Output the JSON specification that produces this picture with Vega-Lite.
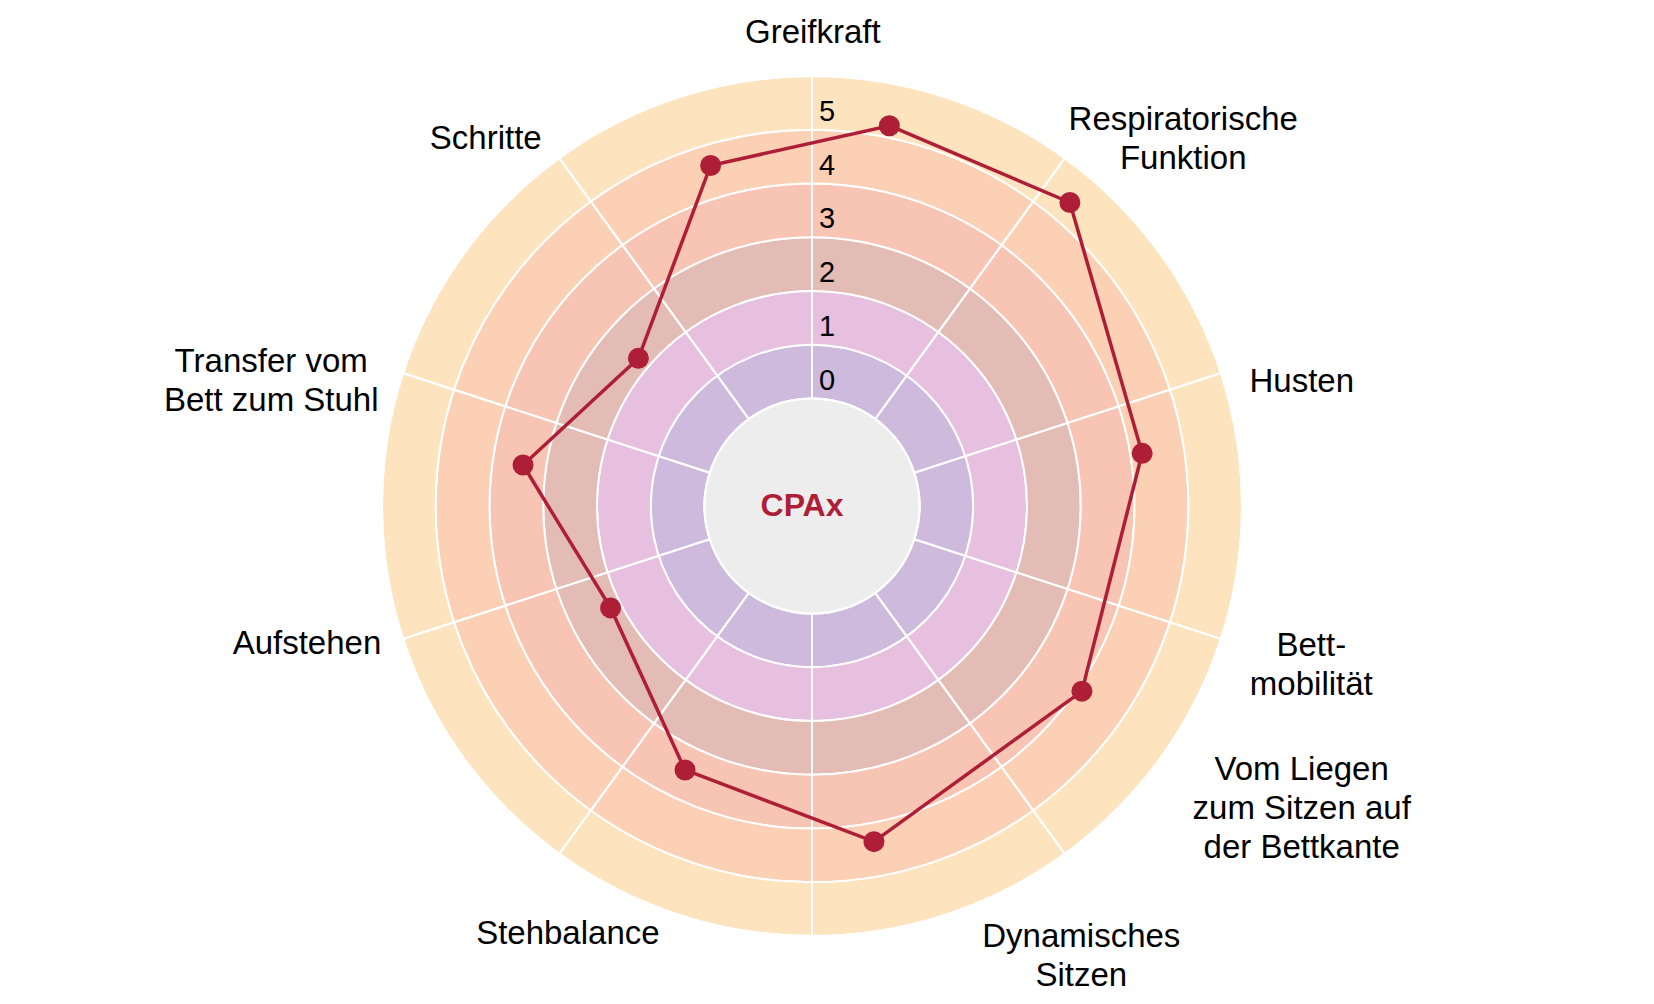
{
  "$schema": "https://vega.github.io/schema/vega-lite/v6.json",
  "width": 1624,
  "height": 996,
  "autosize": {"type": "none"},
  "padding": {"left": 0, "top": 8, "right": 30, "bottom": 0},
  "background": "white",
  "config": {"view": {"stroke": null}, "font": "Liberation Sans"},
  "datasets": {
    "bands": [
      {"score": 0, "from": 0, "to": 1},
      {"score": 1, "from": 1, "to": 2},
      {"score": 2, "from": 2, "to": 3},
      {"score": 3, "from": 3, "to": 4},
      {"score": 4, "from": 4, "to": 5},
      {"score": 5, "from": 5, "to": 6}
    ],
    "items": [
      {"item": "Greifkraft", "label": "Greifkraft", "angle": 11.5, "score": 5.22, "labelAngle": 0.1, "labelDist": 6.8},
      {"item": "Respiratorische Funktion", "label": "Respiratorische\nFunktion", "angle": 40.35, "score": 5.41, "labelAngle": 43.9, "labelDist": 7.96},
      {"item": "Husten", "label": "Husten", "angle": 80.93, "score": 4.22, "labelAngle": 75.76, "labelDist": 7.4},
      {"item": "Bettmobilität", "label": "Bett-\nmobilität", "angle": 124.45, "score": 4.09, "labelAngle": 105.71, "labelDist": 7.65},
      {"item": "Vom Liegen zum Sitzen auf der Bettkante", "label": "Vom Liegen\nzum Sitzen auf\nder Bettkante", "angle": 169.54, "score": 4.35, "labelAngle": 118.33, "labelDist": 8.35},
      {"item": "Dynamisches Sitzen", "label": "Dynamisches\nSitzen", "angle": 205.69, "score": 3.45, "labelAngle": 148.02, "labelDist": 7.46},
      {"item": "Stehbalance", "label": "Stehbalance", "angle": 243.16, "score": 2.2, "labelAngle": 209.69, "labelDist": 7.17},
      {"item": "Aufstehen", "label": "Aufstehen", "angle": 278.07, "score": 3.43, "labelAngle": 254.72, "labelDist": 7.74},
      {"item": "Transfer vom Bett zum Stuhl", "label": "Transfer vom\nBett zum Stuhl", "angle": 310.38, "score": 2.24, "labelAngle": 284.87, "labelDist": 8.41},
      {"item": "Schritte", "label": "Schritte", "angle": 343.42, "score": 4.61, "labelAngle": 318.33, "labelDist": 7.13}
    ],
    "ticks": [
      {"tick": 0}, {"tick": 1}, {"tick": 2}, {"tick": 3}, {"tick": 4}, {"tick": 5}
    ],
    "title": [{"name": "CPAx"}]
  },
  "resolve": {"scale": {"theta": "independent"}},
  "layer": [
    {
      "data": {"name": "bands"},
      "mark": {"type": "arc", "stroke": "white", "strokeWidth": 2},
      "encoding": {
        "theta": {"datum": 0, "type": "quantitative", "scale": {"domain": [0, 360], "range": [0, 6.283185307179586]}},
        "theta2": {"datum": 360},
        "radius": {"field": "to", "type": "quantitative", "scale": {"type": "linear", "domain": [-2, 6], "range": [0, 430], "zero": false, "nice": false}},
        "radius2": {"field": "from"},
        "color": {
          "field": "score", "type": "nominal", "legend": null,
          "scale": {"domain": [0, 1, 2, 3, 4, 5], "range": ["#CEBADC", "#E6C0DE", "#E2BCB5", "#F8C4B4", "#FBD0B5", "#FDE4BE"]}
        }
      }
    },
    {
      "data": {"name": "title"},
      "mark": {"type": "arc", "fill": "#EDEDED", "stroke": "white", "strokeWidth": 2},
      "encoding": {
        "theta": {"datum": 0, "type": "quantitative", "scale": {"domain": [0, 360], "range": [0, 6.283185307179586]}},
        "theta2": {"datum": 360},
        "radius": {"datum": 0, "type": "quantitative", "scale": {"type": "linear", "domain": [-2, 6], "range": [0, 430], "zero": false, "nice": false}},
        "radius2": {"datum": -2}
      }
    },
    {
      "data": {"name": "items"},
      "mark": {"type": "arc", "fill": "transparent", "stroke": "white", "strokeWidth": 2},
      "encoding": {
        "theta": {"aggregate": "count", "type": "quantitative", "stack": true},
        "detail": {"field": "item"},
        "radius": {"datum": 6, "type": "quantitative", "scale": {"type": "linear", "domain": [-2, 6], "range": [0, 430], "zero": false, "nice": false}},
        "radius2": {"datum": 0}
      }
    },
    {
      "data": {"name": "items"},
      "transform": [
        {"calculate": "(datum.score + 2) * sin(datum.angle * PI / 180)", "as": "px"},
        {"calculate": "(datum.score + 2) * cos(datum.angle * PI / 180)", "as": "py"}
      ],
      "encoding": {
        "x": {"field": "px", "type": "quantitative", "axis": null, "scale": {"domain": [-15.107, 15.107], "nice": false, "zero": false}},
        "y": {"field": "py", "type": "quantitative", "axis": null, "scale": {"domain": [-9.2651, 9.2651], "nice": false, "zero": false}}
      },
      "layer": [
        {
          "mark": {"type": "line", "interpolate": "linear-closed", "color": "#AE1F37", "strokeWidth": 3.5},
          "encoding": {"order": {"field": "angle", "type": "quantitative"}}
        },
        {
          "mark": {"type": "circle", "size": 440, "color": "#AE1F37", "opacity": 1}
        }
      ]
    },
    {
      "data": {"name": "ticks"},
      "mark": {"type": "text", "radiusOffset": 18, "dx": 15, "fontSize": 29, "align": "center", "baseline": "middle", "color": "black"},
      "encoding": {
        "theta": {"datum": 0, "type": "quantitative", "scale": {"domain": [0, 360], "range": [0, 6.283185307179586]}},
        "radius": {"field": "tick", "type": "quantitative", "scale": {"type": "linear", "domain": [-2, 6], "range": [0, 430], "zero": false, "nice": false}},
        "text": {"field": "tick", "type": "nominal"}
      }
    },
    {
      "data": {"name": "items"},
      "mark": {"type": "text", "fontSize": 33, "lineHeight": 39, "lineBreak": "\n", "align": "center", "baseline": "middle", "color": "black"},
      "encoding": {
        "theta": {"field": "labelAngle", "type": "quantitative", "stack": null, "scale": {"domain": [0, 360], "range": [0, 6.283185307179586]}},
        "radius": {"field": "labelDist", "type": "quantitative", "scale": {"type": "linear", "domain": [-2, 6], "range": [0, 430], "zero": false, "nice": false}},
        "text": {"field": "label", "type": "nominal"}
      }
    },
    {
      "data": {"name": "title"},
      "mark": {"type": "text", "fontSize": 32, "fontWeight": "bold", "dx": -10, "align": "center", "baseline": "middle", "color": "#AE1F37"},
      "encoding": {
        "theta": {"datum": 0, "type": "quantitative", "scale": {"domain": [0, 360], "range": [0, 6.283185307179586]}},
        "radius": {"datum": -2, "type": "quantitative", "scale": {"type": "linear", "domain": [-2, 6], "range": [0, 430], "zero": false, "nice": false}},
        "text": {"field": "name", "type": "nominal"}
      }
    }
  ]
}
